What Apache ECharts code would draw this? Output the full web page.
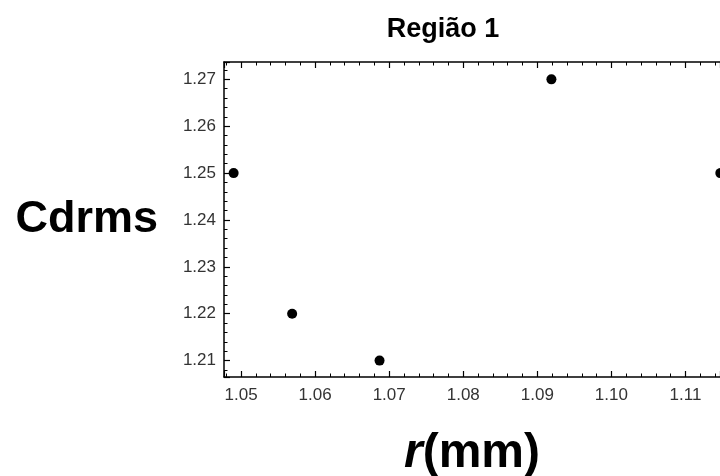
<!DOCTYPE html>
<html>
<head>
<meta charset="utf-8">
<script src="https://cdn.jsdelivr.net/npm/echarts@6/dist/echarts.min.js"></script>
<style>
html, body { margin: 0; padding: 0; background: #fff; }
#main { width: 720px; height: 476px; }
</style>
</head>
<body>
<div id="main"></div>
<script>
var chartTitle = 'Região 1';
var rValues = [1.0490, 1.0569, 1.0687, 1.0919, 1.1147];
var cdrmsValues = [1.25, 1.22, 1.21, 1.27, 1.25];

var xMin = 1.0477, xMax = 1.11466;
var yMin = 1.2065, yMax = 1.2737;

var points = [];
for (var i = 0; i < rValues.length; i++) {
    points.push([rValues[i], cdrmsValues[i]]);
}

var font = 'Liberation Sans, Arial, sans-serif';

function frameAxis(pos, withLabels) {
    var horiz = pos == 'top' || pos == 'bottom';
    return {
        type: 'value',
        position: pos,
        min: horiz ? xMin : yMin,
        max: horiz ? xMax : yMax,
        splitNumber: horiz ? 7 : 6,
        axisLine: { show: true, onZero: false, lineStyle: { color: '#000', width: 1.5 } },
        axisTick: { show: true, inside: true, length: 6, lineStyle: { color: '#000', width: 1.2 } },
        minorTick: { show: true, splitNumber: 5, length: 3.5, lineStyle: { color: '#000', width: 1 } },
        splitLine: { show: false },
        axisLabel: {
            show: withLabels,
            showMinLabel: false,
            showMaxLabel: false,
            margin: horiz ? 10 : 8,
            color: '#333',
            fontFamily: font,
            fontSize: 17,
            formatter: function (v) { return v.toFixed(2); }
        }
    };
}

var xBottom = frameAxis('bottom', true);
xBottom.name = '{i|r}(mm)';
xBottom.nameLocation = 'middle';
xBottom.nameGap = 53;
xBottom.nameTextStyle = {
    fontFamily: font, fontSize: 48, fontWeight: 'bold', color: '#000',
    rich: { i: { fontFamily: font, fontSize: 48, fontWeight: 'bold', fontStyle: 'italic', color: '#000' } }
};

var yLeft = frameAxis('left', true);
yLeft.name = 'Cdrms';
yLeft.nameLocation = 'middle';
yLeft.nameRotate = 0;
yLeft.nameGap = 66;
yLeft.nameTextStyle = {
    fontFamily: font, fontSize: 45, fontWeight: 'bold', color: '#000',
    align: 'right', padding: [7, 0, 0, 0]
};

var option = {
    backgroundColor: '#fff',
    animation: false,
    title: {
        text: chartTitle,
        left: 438,
        top: 11,
        textAlign: 'center',
        textStyle: { fontFamily: font, fontSize: 27, fontWeight: 'bold', color: '#000' }
    },
    grid: { left: 224, right: 0, top: 62, bottom: 99, containLabel: false, outerBoundsMode: 'none' },
    xAxis: [xBottom, frameAxis('top', false)],
    yAxis: [yLeft],
    series: [{
        type: 'scatter',
        data: points,
        symbolSize: 10,
        clip: false,
        itemStyle: { color: '#000', opacity: 1 }
    }]
};

var myChart = echarts.init(document.getElementById('main'));
myChart.setOption(option);
</script>
</body>
</html>
